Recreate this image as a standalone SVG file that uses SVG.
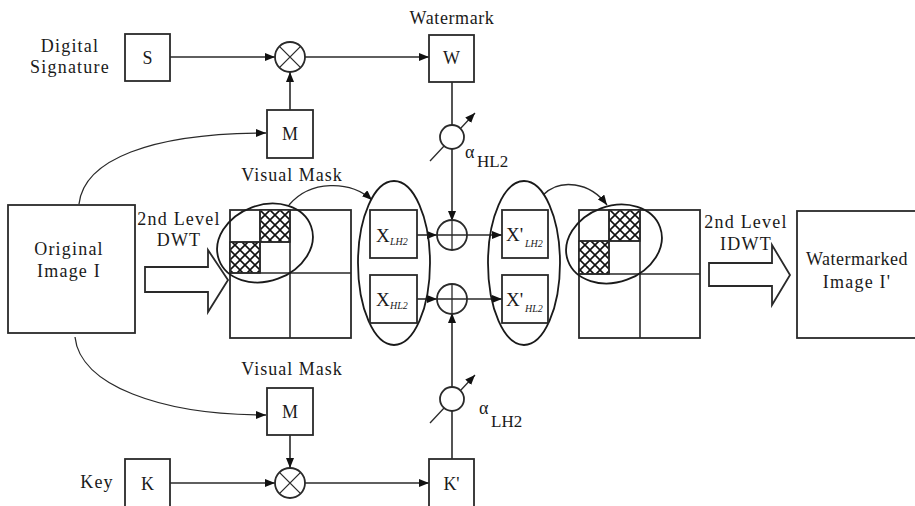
<svg xmlns="http://www.w3.org/2000/svg" width="915" height="506" viewBox="0 0 915 506">
<style>
text{font-family:"Liberation Serif","Times New Roman",serif;fill:#1a1a1a}
.lbl{font-size:18px;letter-spacing:1.2px}
.bx{font-size:18px}
.xl{font-size:19px}
.sub{font-size:10px;font-style:italic}
.box{fill:#fff;stroke:#2a2a2a;stroke-width:1.8}
.ln{fill:none;stroke:#2a2a2a;stroke-width:1.6}
.th{fill:none;stroke:#2a2a2a;stroke-width:1.3}
.ell{fill:none;stroke:#1a1a1a;stroke-width:1.8}
</style>
<defs>
<marker id="ah" markerWidth="10" markerHeight="8" refX="10" refY="4" orient="auto" markerUnits="userSpaceOnUse">
<path d="M0,0 L10,4 L0,8 Z" fill="#111"/>
</marker>
<pattern id="hatch" width="10" height="10" patternUnits="userSpaceOnUse" x="0" y="0">
<rect width="10" height="10" fill="#fff"/>
<path d="M0,0 L10,10 M10,0 L0,10" stroke="#111" stroke-width="1.6"/>
</pattern>
</defs>

<!-- connectors -->
<g id="connectors">
<line class="ln" x1="170" y1="57" x2="275" y2="57" marker-end="url(#ah)"/>
<line class="ln" x1="305" y1="57" x2="429" y2="57" marker-end="url(#ah)"/>
<line class="ln" x1="290" y1="110" x2="290" y2="72" marker-end="url(#ah)"/>
<line class="ln" x1="452" y1="82" x2="452" y2="125"/>
<line class="ln" x1="452" y1="149" x2="452" y2="221" marker-end="url(#ah)"/>
<line class="ln" x1="452" y1="459" x2="452" y2="411"/>
<line class="ln" x1="452" y1="387" x2="452" y2="313" marker-end="url(#ah)"/>
<line class="ln" x1="290" y1="435" x2="290" y2="468" marker-end="url(#ah)"/>
<line class="ln" x1="170" y1="483" x2="275" y2="483" marker-end="url(#ah)"/>
<line class="ln" x1="305" y1="483" x2="429" y2="483" marker-end="url(#ah)"/>
<line class="ln" x1="417" y1="235" x2="437" y2="235" marker-end="url(#ah)"/>
<line class="ln" x1="417" y1="299" x2="437" y2="299" marker-end="url(#ah)"/>
<line class="ln" x1="467" y1="235" x2="502" y2="235" marker-end="url(#ah)"/>
<line class="ln" x1="467" y1="299" x2="502" y2="299" marker-end="url(#ah)"/>
<path class="th" d="M79,204 C84,160 150,133 266,133" marker-end="url(#ah)"/>
<path class="th" d="M75,337 C80,385 160,415 266,415" marker-end="url(#ah)"/>
<path class="th" d="M289,205 C310,180 350,180 372,200" marker-end="url(#ah)"/>
<path class="th" d="M543,195 C560,178 590,182 607,205" marker-end="url(#ah)"/>
<!-- gain arrows -->
<line class="th" x1="430" y1="161" x2="475" y2="113" marker-end="url(#ah)"/>
<line class="th" x1="430" y1="423" x2="475" y2="375" marker-end="url(#ah)"/>
</g>

<!-- text labels -->
<g id="labels">
<text class="lbl" x="70" y="52" text-anchor="middle">Digital</text>
<text class="lbl" x="70" y="73" text-anchor="middle">Signature</text>
<text class="lbl" x="452" y="24" text-anchor="middle" style="letter-spacing:0.6px">Watermark</text>
<text class="lbl" x="292" y="181" text-anchor="middle" style="letter-spacing:1px">Visual Mask</text>
<text class="lbl" x="292" y="375" text-anchor="middle" style="letter-spacing:1px">Visual Mask</text>
<text class="lbl" x="97" y="488" text-anchor="middle">Key</text>
<text class="lbl" x="179" y="225" text-anchor="middle">2nd Level</text>
<text class="lbl" x="179" y="246" text-anchor="middle">DWT</text>
<text class="lbl" x="746" y="228" text-anchor="middle">2nd Level</text>
<text class="lbl" x="746" y="250" text-anchor="middle">IDWT</text>
<text x="465" y="158" style="font-size:18px">α</text>
<text x="477" y="167" style="font-size:17px">HL2</text>
<text x="479" y="414" style="font-size:18px">α</text>
<text x="491" y="427" style="font-size:17px">LH2</text>
</g>

<g id="sig-S"><rect class="box" x="125" y="34" width="45" height="47"/><text class="bx" x="147.5" y="64" text-anchor="middle">S</text></g>
<g id="mul-top"><circle class="box" cx="290" cy="57" r="15"/><path class="th" d="M279.4,46.4 L300.6,67.6 M300.6,46.4 L279.4,67.6"/></g>
<g id="mask-top"><rect class="box" x="267" y="110" width="46" height="48"/><text class="bx" x="290" y="140" text-anchor="middle">M</text></g>
<g id="W"><rect class="box" x="429" y="35" width="45" height="47"/><text class="bx" x="451.5" y="64" text-anchor="middle">W</text></g>
<g id="gain-HL2"><ellipse class="box" cx="452" cy="137" rx="12" ry="12"/></g>

<g id="original"><rect class="box" x="8" y="205" width="127" height="128"/>
<text class="lbl" x="69" y="255" text-anchor="middle">Original</text>
<text class="lbl" x="69" y="277" text-anchor="middle">Image I</text></g>

<g id="dwt-arrow"><path class="box" d="M145,267 L208,267 L208,250 L228,280 L208,312 L208,292 L145,292 Z"/></g>

<g id="dwt-grid">
<rect class="box" x="230" y="210" width="121" height="128"/>
<rect x="260" y="210" width="30" height="32" fill="url(#hatch)" stroke="#2a2a2a" stroke-width="1.6"/>
<rect x="230" y="242" width="30" height="31" fill="url(#hatch)" stroke="#2a2a2a" stroke-width="1.6"/>
<path class="ln" d="M290,210 L290,338 M230,273 L351,273 M260,210 L260,273 M230,242 L290,242" stroke-width="1.8"/>
<ellipse class="ell" cx="265" cy="243" rx="49" ry="38" transform="rotate(-20 265 243)"/>
</g>

<g id="X-group">
<ellipse class="ell" cx="394" cy="263" rx="36" ry="82"/>
<rect class="box" x="370" y="210" width="47" height="48"/>
<text class="xl" x="376" y="242">X</text><text class="sub" x="390" y="245">LH2</text>
<rect class="box" x="370" y="275" width="47" height="48"/>
<text class="xl" x="376" y="306">X</text><text class="sub" x="390" y="309">HL2</text>
</g>

<g id="add-top"><circle class="box" cx="452" cy="235" r="15"/><path class="th" d="M437,235 L467,235 M452,220 L452,250"/></g>
<g id="add-bot"><circle class="box" cx="452" cy="299" r="15"/><path class="th" d="M437,299 L467,299 M452,284 L452,314"/></g>

<g id="Xp-group">
<ellipse class="ell" cx="524" cy="263" rx="36" ry="82"/>
<rect class="box" x="502" y="210" width="46" height="48"/>
<text class="xl" x="506" y="241">X'</text><text class="sub" x="525" y="247">LH2</text>
<rect class="box" x="502" y="275" width="46" height="48"/>
<text class="xl" x="506" y="306">X'</text><text class="sub" x="525" y="312">HL2</text>
</g>

<g id="idwt-grid">
<rect class="box" x="579" y="210" width="121" height="128"/>
<rect x="609" y="210" width="31" height="31" fill="url(#hatch)" stroke="#2a2a2a" stroke-width="1.6"/>
<rect x="579" y="241" width="30" height="33" fill="url(#hatch)" stroke="#2a2a2a" stroke-width="1.6"/>
<path class="ln" d="M640,210 L640,338 M579,274 L700,274 M609,210 L609,274 M579,241 L640,241" stroke-width="1.8"/>
<ellipse class="ell" cx="614" cy="244" rx="49" ry="38" transform="rotate(-20 614 244)"/>
</g>

<g id="idwt-arrow"><path class="box" d="M709,263 L772,263 L772,245 L790,275 L772,305 L772,286 L709,286 Z"/></g>

<g id="watermarked"><rect class="box" x="797" y="211" width="130" height="127"/>
<text class="lbl" x="857" y="265" text-anchor="middle" style="letter-spacing:0.5px">Watermarked</text>
<text class="lbl" x="857" y="288" text-anchor="middle">Image I'</text></g>

<g id="mask-bot"><rect class="box" x="267" y="388" width="46" height="47"/><text class="bx" x="290" y="418" text-anchor="middle">M</text></g>
<g id="gain-LH2"><ellipse class="box" cx="452" cy="399" rx="12" ry="12"/></g>
<g id="key-K"><rect class="box" x="125" y="459" width="45" height="60"/><text class="bx" x="147.5" y="490" text-anchor="middle">K</text></g>
<g id="mul-bot"><circle class="box" cx="290" cy="483" r="15"/><path class="th" d="M279.4,472.4 L300.6,493.6 M300.6,472.4 L279.4,493.6"/></g>
<g id="Kp"><rect class="box" x="429" y="459" width="45" height="60"/><text class="bx" x="451.5" y="490" text-anchor="middle">K'</text></g>
</svg>
